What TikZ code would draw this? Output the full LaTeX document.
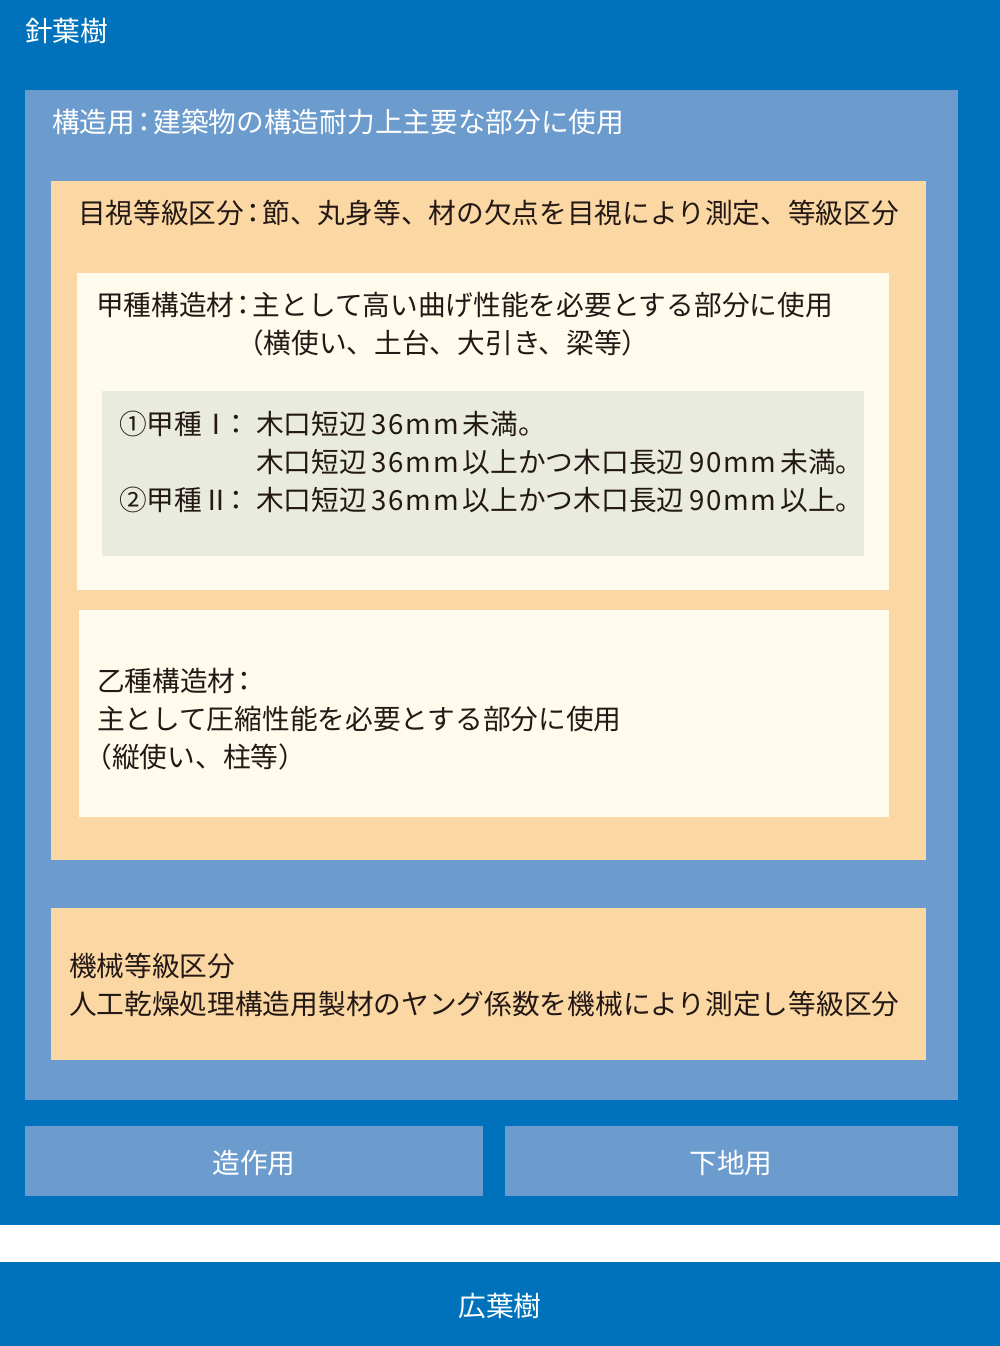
\documentclass[tikz,border=0pt]{standalone}
\usepackage{fontspec}
\setmainfont{Noto Sans CJK JP}
\definecolor{bdark}{RGB}{0,114,188}
\definecolor{blight}{RGB}{108,156,206}
\definecolor{orng}{RGB}{251,216,163}
\definecolor{cream}{RGB}{254,251,236}
\definecolor{grayb}{RGB}{233,235,222}
\definecolor{ink}{RGB}{35,24,21}
\newcommand{\fsz}{\fontsize{27.7}{38}\selectfont}
\newcommand{\cln}{\kern-0.17em：\kern-0.17em}
\newcommand{\lat}[1]{\kern5pt{\addfontfeature{LetterSpace=6}#1}\kern4pt}
\begin{document}
\begin{tikzpicture}[x=1pt,y=-1pt,
  box/.style={draw=none,inner sep=0pt,outer sep=0pt,anchor=north west},
  lbl/.style={inner sep=0pt,outer sep=0pt,anchor=west,font=\fsz,text height=1em,text depth=0.08em,text=ink,yshift=-7pt},
  wlbl/.style={lbl,text=white},
  clbl/.style={wlbl,anchor=center}]
\fill[white] (0,0) rectangle (1000,1346);
\useasboundingbox (0,0) rectangle (1000,1346);
% conifer
\node[box,fill=bdark,minimum width=1000pt,minimum height=1225pt] (conifer) at (0,0) {};
\node[wlbl] (coniferT) at (25,30) {針葉樹};
% structural
\node[box,fill=blight,minimum width=933pt,minimum height=1010pt] (struct) at (25,90) {};
\node[wlbl] (structT) at (52,121) {構造用\cln 建築物の構造耐力上主要な部分に使用};
% visual grading
\node[box,fill=orng,minimum width=875pt,minimum height=679pt] (visual) at (51,181) {};
\node[lbl] (visualT) at (78,212) {目視等級区分\cln 節、丸身等、材の欠点を目視により測定、等級区分};
% kou
\node[box,fill=cream,minimum width=812pt,minimum height=317pt] (kou) at (77,273) {};
\node[lbl] (kouT1) at (96,304) {甲種構造材\cln 主として高い曲げ性能を必要とする部分に使用};
\node[lbl] (kouT2) at (236,342) {（横使い、土台、大引き、梁等）};
\node[box,fill=grayb,minimum width=762pt,minimum height=165pt] (kougray) at (102,391) {};
\node[lbl] (g1a) at (119,423) {①甲種Ⅰ\kern-7pt：};
\node[lbl] (g1b) at (256,423) {木口短辺\lat{36mm}未満。};
\node[lbl] (g2b) at (256,461) {木口短辺\lat{36mm}以上かつ木口長辺\lat{90mm}未満。};
\node[lbl] (g3a) at (119,499) {②甲種Ⅱ\kern-7pt：};
\node[lbl] (g3b) at (256,499) {木口短辺\lat{36mm}以上かつ木口長辺\lat{90mm}以上。};
% otsu
\node[box,fill=cream,minimum width=810pt,minimum height=207pt] (otsu) at (79,610) {};
\node[lbl] (otsuT1) at (97,680) {乙種構造材\kern-0.17em：};
\node[lbl] (otsuT2) at (97,718) {主として圧縮性能を必要とする部分に使用};
\node[lbl] (otsuT3) at (97,756) {\kern-0.45em（縦使い、柱等）};
% machine grading
\node[box,fill=orng,minimum width=875pt,minimum height=152pt] (machine) at (51,908) {};
\node[lbl] (machT1) at (69,965) {機械等級区分};
\node[lbl] (machT2) at (69,1003) {人工乾燥処理構造用製材のヤング係数を機械により測定し等級区分};
% buttons
\node[box,fill=blight,minimum width=458pt,minimum height=70pt] (zousaku) at (25,1126) {};
\node[clbl] (zousakuT) at (254,1162) {造作用};
\node[box,fill=blight,minimum width=453pt,minimum height=70pt] (shitaji) at (505,1126) {};
\node[clbl] (shitajiT) at (731,1162) {下地用};
% broadleaf
\node[box,fill=bdark,minimum width=1000pt,minimum height=84pt] (broad) at (0,1262) {};
\node[clbl] (broadT) at (500,1305) {広葉樹};
\end{tikzpicture}
\end{document}
